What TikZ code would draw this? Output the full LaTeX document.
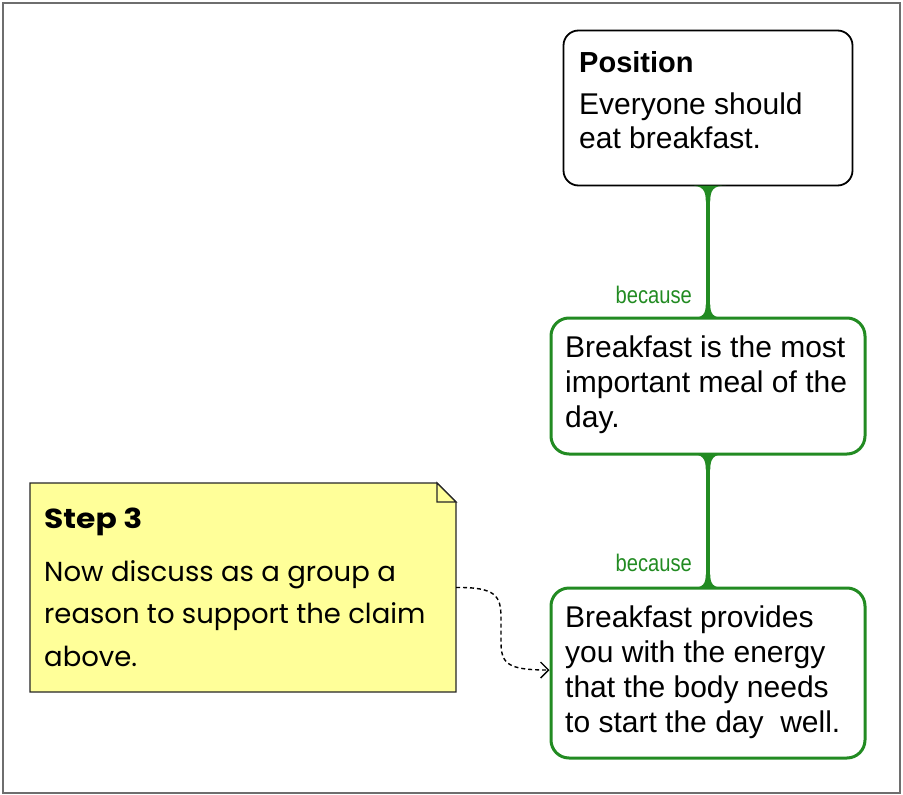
\documentclass[tikz,border=0pt]{standalone}
\usepackage{fontspec}
\setmainfont{Liberation Sans}
\newfontfamily\notefont{Poppins}
\usetikzlibrary{arrows.meta}
\definecolor{grn}{RGB}{34,139,34}
\definecolor{noteyellow}{RGB}{255,255,153}
\definecolor{framegray}{RGB}{110,110,110}
\begin{document}
\begin{tikzpicture}[x=1pt,y=-1pt,
  txt/.style={anchor=base west, inner sep=0pt, font=\fontsize{30}{34}\selectfont},
  notetxt/.style={anchor=base west, inner sep=0pt, font=\notefont\fontsize{27.5}{32}\selectfont},
  lbl/.style={anchor=base east, inner sep=0pt, text=grn, font=\fontsize{24}{28}\selectfont},
  posbox/.style={draw=black, line width=1.8pt, rounded corners=15pt, outer sep=0pt, inner sep=0pt, fill=white},
  grnbox/.style={draw=grn, line width=3pt, rounded corners=18pt, outer sep=0pt, inner sep=0pt, fill=white},
  conn/.style={draw=grn, line width=4.5pt},
  flare/.style={fill=grn},
  dashconn/.style={line width=1.4pt, dash pattern=on 4pt off 3pt, -{Straight Barb[length=8pt,width=16pt,line width=1.4pt]}}
]
\useasboundingbox (0,0) rectangle (903,795);
\draw[framegray, line width=2pt] (3,3) rectangle (900,793);

% boxes
\node[posbox, minimum width=289pt, minimum height=155pt] (pos) at (708,108) {};
\node[grnbox, minimum width=314pt, minimum height=136pt] (b2) at (708,386) {};
\node[grnbox, minimum width=314pt, minimum height=170pt] (b3) at (708,673) {};

% connectors with flared ends
\draw[conn] (pos.south) -- (b2.north);
\draw[conn] (b2.south) -- (b3.north);
\fill[flare, shift={(pos.south)}] (-18,0) .. controls (-5,0) and (-2.2,5) .. (-2.2,16) -- (2.2,16) .. controls (2.2,5) and (5,0) .. (18,0) -- cycle;
\fill[flare, shift={(b2.north)}] (-17,0) .. controls (-5,0) and (-2.2,-4) .. (-2.2,-14) -- (2.2,-14) .. controls (2.2,-4) and (5,0) .. (17,0) -- cycle;
\fill[flare, shift={(b2.south)}] (-18,0) .. controls (-5,0) and (-2.2,5) .. (-2.2,16) -- (2.2,16) .. controls (2.2,5) and (5,0) .. (18,0) -- cycle;
\fill[flare, shift={(b3.north)}] (-17,0) .. controls (-5,0) and (-2.2,-4) .. (-2.2,-14) -- (2.2,-14) .. controls (2.2,-4) and (5,0) .. (17,0) -- cycle;

\node[lbl] (because1) at (692,303) {\scalebox{0.84}[1]{because}};
\node[lbl] (because2) at (692,571.5) {\scalebox{0.84}[1]{because}};

% texts of position box
\node[txt, font=\bfseries\fontsize{29}{34}\selectfont] (postitle) at (579,72.5) {Position};
\node[txt] (pos1) at (579,114.5) {Everyone should};
\node[txt] (pos2) at (579,148.5) {eat breakfast.};

% texts of box 2
\node[txt] (r1a) at (565,357.5) {Breakfast is the most};
\node[txt] (r1b) at (565,392.5) {important meal of the};
\node[txt] (r1c) at (565,427) {day.};

% texts of box 3
\node[txt] (r2a) at (565,627.5) {Breakfast provides};
\node[txt] (r2b) at (565,662.5) {you with the energy};
\node[txt] (r2c) at (565,697.5) {that the body needs};
\node[txt] (r2d) at (565,732) {to start the day\ \ well.};

% note
\node[minimum width=426pt, minimum height=209pt, inner sep=0pt, outer sep=0pt] (note) at (243,587.5) {};
\filldraw[fill=noteyellow, draw=black!85, line width=1.4pt]
  (note.north west) -- ([xshift=-19pt]note.north east) -- ([yshift=-19pt]note.north east) -- (note.south east) -- (note.south west) -- cycle;
\filldraw[fill=noteyellow, draw=black!85, line width=1.4pt, line join=miter]
  ([xshift=-19pt]note.north east) -- ([xshift=-19pt,yshift=-19pt]note.north east) -- ([yshift=-19pt]note.north east) -- cycle;
\node[notetxt, font=\notefont\bfseries\fontsize{27.5}{32}\selectfont] (steptitle) at (44,528) {\scalebox{1.14}[1]{Step 3}};
\node[notetxt] (n1) at (44,581.5) {Now discuss as a group a};
\node[notetxt] (n2) at (44,623) {reason to support the claim};
\node[notetxt] (n3) at (44,666) {above.};

% dashed connector
\coordinate (arrowend) at (549.5,670);
\draw[dashconn] (note.east) .. controls (496,587) and (501,596) .. (501,618) -- (501,642) .. controls (501,664) and (508,670) .. (arrowend);
\end{tikzpicture}
\end{document}
